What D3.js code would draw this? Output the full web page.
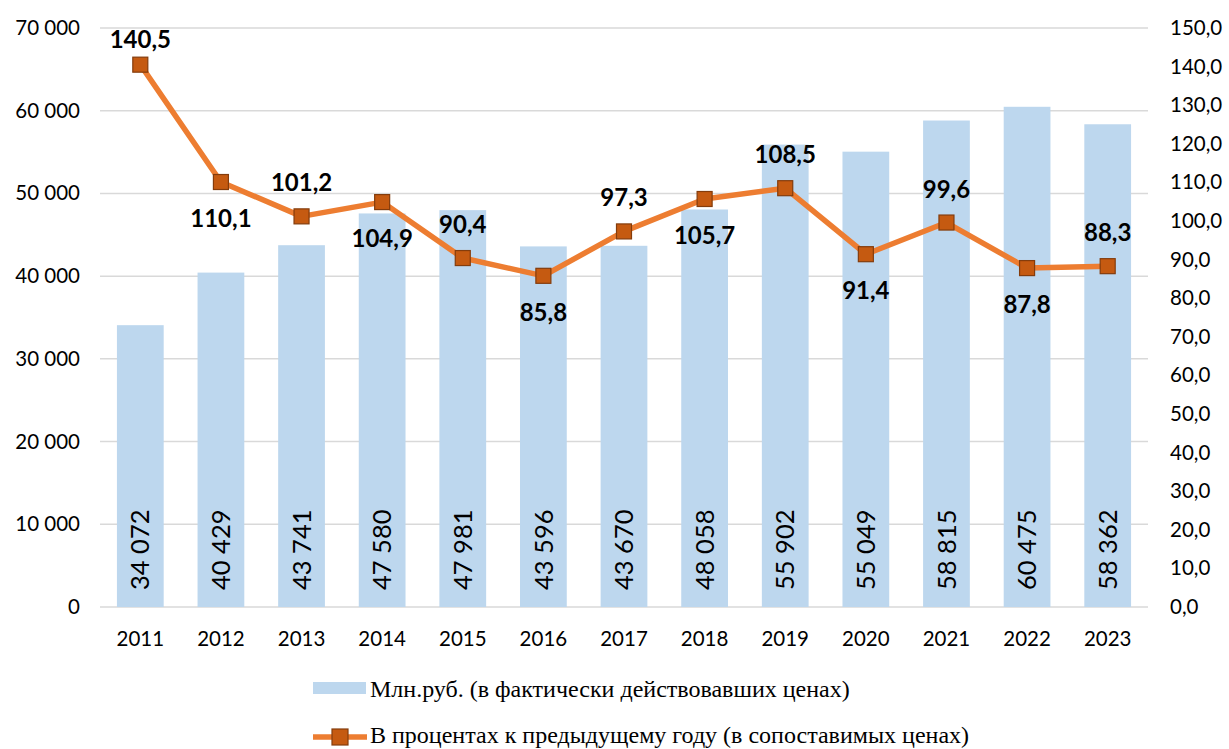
<!DOCTYPE html>
<html><head><meta charset="utf-8">
<script src="https://cdn.jsdelivr.net/npm/d3@7"></script>
<style>body{margin:0;background:#fff}svg{display:block}</style>
</head><body>
<svg id="c" width="1229" height="749"></svg>
<script>
const years = ["2011","2012","2013","2014","2015","2016","2017","2018","2019","2020","2021","2022","2023"];
const rubles = [34072,40429,43741,47580,47981,43596,43670,48058,55902,55049,58815,60475,58362];
const percent = [140.5,110.1,101.2,104.9,90.4,85.8,97.3,105.7,108.5,91.4,99.6,87.8,88.3];
const labelSide = ["up","down","up","down","up","down","up","down","up","down","up","down","up"];
const leftTicks = [0,10000,20000,30000,40000,50000,60000,70000];
const rightTicks = [0,10,20,30,40,50,60,70,80,90,100,110,120,130,140,150];
const legendLabels = ["Млн.руб. (в фактически действовавших ценах)","В процентах к предыдущему году (в сопоставимых ценах)"];

const svg = d3.select("#c");
const L=100, R=1148, T=28, B=607;
const font = "Lato, 'Noto Sans', sans-serif";
const x = d3.scaleBand().domain(years).range([L,R]).paddingInner(0.42).paddingOuter(0.21);
const yL = d3.scaleLinear().domain([0,70000]).range([B,T]);
const yR = d3.scaleLinear().domain([0,150]).range([B,T]);
const fmtThou = d => d3.format(",")(d).replace(/,/g," ");
const fmtPct = d => d3.format(".1f")(d).replace(".",",");

// gridlines
svg.append("g").selectAll("line").data(leftTicks).join("line")
  .attr("x1",L).attr("x2",R).attr("y1",d=>yL(d)).attr("y2",d=>yL(d))
  .attr("stroke","#d9d9d9").attr("stroke-width",1.5);

// left axis
const ga = svg.append("g").attr("transform",`translate(${L-20},0)`)
  .call(d3.axisLeft(yL).tickValues(leftTicks).tickFormat(fmtThou).tickSize(0).tickPadding(0));
ga.select(".domain").remove();
ga.selectAll("text").attr("font-family",font).attr("font-size",20.5).attr("fill","#000");

// right axis
const gr = svg.append("g").attr("transform",`translate(${R+22},0)`)
  .call(d3.axisRight(yR).tickValues(rightTicks).tickFormat(fmtPct).tickSize(0).tickPadding(0));
gr.select(".domain").remove();
gr.selectAll("text").attr("font-family",font).attr("font-size",20.5).attr("fill","#000");

// bottom axis
const gb = svg.append("g").attr("transform",`translate(0,${B+16})`)
  .call(d3.axisBottom(x).tickSize(0).tickPadding(8));
gb.select(".domain").remove();
gb.selectAll("text").attr("font-family",font).attr("font-size",20.5).attr("fill","#000");

// bars
svg.append("g").selectAll("rect").data(rubles).join("rect")
  .attr("x",(d,i)=>x(years[i])).attr("width",x.bandwidth())
  .attr("y",d=>yL(d)).attr("height",d=>B-yL(d)).attr("fill","#bdd7ee");

svg.append("g").selectAll("text").data(rubles).join("text")
  .attr("transform",(d,i)=>`translate(${x(years[i])+x.bandwidth()/2},${B-17}) rotate(-90)`)
  .attr("dy","0.36em").attr("font-family",font).attr("font-size",25.5).attr("fill","#000")
  .text(d=>fmtThou(d));

// line
const cx = i => x(years[i])+x.bandwidth()/2;
svg.append("path").datum(percent)
  .attr("d",d3.line().x((d,i)=>cx(i)).y(d=>yR(d)))
  .attr("fill","none").attr("stroke","#ed7d31").attr("stroke-width",5.5).attr("stroke-linejoin","round");
svg.append("g").selectAll("rect").data(percent).join("rect")
  .attr("x",(d,i)=>cx(i)-7.5).attr("y",d=>yR(d)-7.5).attr("width",15).attr("height",15)
  .attr("fill","#c55a11").attr("stroke","#843c0c").attr("stroke-width",1.2);
svg.append("g").selectAll("text").data(percent).join("text")
  .attr("x",(d,i)=>cx(i))
  .attr("y",(d,i)=>labelSide[i]==="up" ? Math.max(T+20, yR(d)-25) : yR(d)+45)
  .attr("text-anchor","middle").attr("font-family",font).attr("font-weight","bold")
  .attr("font-size",24).attr("fill","#000").text(d=>fmtPct(d));

// legend
const lf = "'Liberation Serif','Times New Roman',serif";
svg.append("rect").attr("x",313).attr("y",682).attr("width",53).attr("height",12).attr("fill","#bdd7ee");
svg.append("text").attr("x",370).attr("y",697).attr("font-family",lf).attr("font-size",24).attr("fill","#000").text(legendLabels[0]);
svg.append("line").attr("x1",313).attr("x2",367).attr("y1",737).attr("y2",737).attr("stroke","#ed7d31").attr("stroke-width",5.5);
svg.append("rect").attr("x",332).attr("y",729).attr("width",16).attr("height",16).attr("fill","#c55a11").attr("stroke","#843c0c").attr("stroke-width",1.2);
svg.append("text").attr("x",370).attr("y",743).attr("font-family",lf).attr("font-size",24).attr("fill","#000").text(legendLabels[1]);
</script>
</body></html>
